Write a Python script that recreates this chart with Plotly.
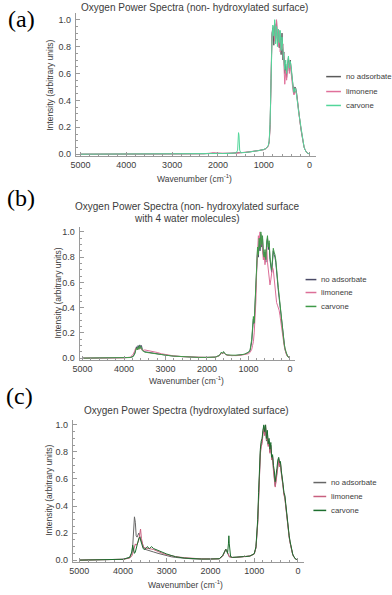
import plotly.graph_objects as go

# ===== data: panel (a) non-hydroxylated surface =====
wn_a = [5000, 4000, 3000, 2300, 2150, 2100, 2050, 1900, 1700, 1600,
        1570, 1550, 1540, 1525, 1500, 1400, 1300, 1200, 1100, 1000,
        950, 900, 880, 860, 840, 820, 800, 780, 760, 740,
        720, 700, 680, 660, 640, 620, 600, 580, 560, 540,
        520, 500, 480, 460, 440, 420, 400, 380, 360, 340,
        320, 300, 280, 260, 240, 220, 200, 180, 160, 140,
        120, 100, 80, 60, 40, 20, 0]
none_a = [0.0, 0.0, 0.001, 0.003, 0.006, 0.009, 0.007, 0.005, 0.006, 0.007,
          0.008, 0.008, 0.009, 0.009, 0.010, 0.013, 0.017, 0.021, 0.027, 0.034,
          0.042, 0.062, 0.095, 0.22, 0.56, 0.90, 0.94, 0.81, 0.97, 0.86,
          0.99, 0.83, 0.91, 0.79, 0.88, 0.74, 0.90, 0.70, 0.76, 0.60,
          0.67, 0.57, 0.66, 0.72, 0.62, 0.70, 0.63, 0.55, 0.50, 0.45,
          0.50, 0.49, 0.45, 0.38, 0.32, 0.27, 0.22, 0.17, 0.12, 0.08,
          0.055, 0.035, 0.02, 0.012, 0.007, 0.004, 0.002]
limo_a = [0.0, 0.0, 0.001, 0.004, 0.008, 0.012, 0.009, 0.006, 0.006, 0.007,
          0.008, 0.008, 0.009, 0.009, 0.010, 0.013, 0.017, 0.021, 0.027, 0.034,
          0.041, 0.060, 0.09, 0.20, 0.52, 0.86, 0.90, 0.95, 0.84, 0.93,
          1.00, 0.88, 0.80, 0.92, 0.76, 0.85, 0.78, 0.82, 0.66, 0.52,
          0.62, 0.55, 0.63, 0.68, 0.60, 0.67, 0.60, 0.52, 0.47, 0.44,
          0.46, 0.47, 0.44, 0.37, 0.31, 0.27, 0.22, 0.17, 0.12, 0.08,
          0.055, 0.035, 0.02, 0.012, 0.007, 0.004, 0.002]
carv_a = [0.0, 0.0, 0.001, 0.002, 0.004, 0.005, 0.005, 0.005, 0.006, 0.010,
          0.03, 0.16, 0.14, 0.03, 0.011, 0.013, 0.017, 0.021, 0.027, 0.035,
          0.043, 0.065, 0.10, 0.24, 0.60, 0.84, 0.96, 0.88, 1.00, 0.82,
          0.95, 0.80, 0.93, 0.83, 0.92, 0.77, 0.87, 0.73, 0.70, 0.63,
          0.70, 0.60, 0.68, 0.73, 0.64, 0.69, 0.65, 0.56, 0.50, 0.46,
          0.49, 0.48, 0.44, 0.38, 0.32, 0.27, 0.22, 0.17, 0.12, 0.08,
          0.055, 0.035, 0.02, 0.012, 0.007, 0.004, 0.002]

# ===== data: panel (b) non-hydroxylated surface + 4 water =====
wn_b = [5000, 4500, 4000, 3850, 3780, 3740, 3720, 3700, 3680, 3660,
        3640, 3620, 3600, 3580, 3560, 3540, 3500, 3450, 3400, 3350,
        3300, 3200, 3100, 3000, 2800, 2600, 2400, 2200, 2000, 1800,
        1700, 1650, 1620, 1600, 1580, 1550, 1500, 1400, 1300, 1200,
        1100, 1000, 960, 920, 900, 880, 860, 840, 820, 800,
        780, 760, 740, 720, 700, 680, 660, 640, 620, 600,
        580, 560, 540, 520, 500, 480, 460, 440, 420, 400,
        380, 360, 340, 320, 300, 280, 260, 240, 220, 200,
        180, 160, 140, 120, 100, 80, 60, 40, 20, 0]
none_b = [0.0, 0.0, 0.002, 0.005, 0.015, 0.04, 0.07, 0.09, 0.07, 0.10,
          0.08, 0.105, 0.09, 0.10, 0.07, 0.06, 0.05, 0.048, 0.045, 0.04,
          0.038, 0.033, 0.028, 0.024, 0.016, 0.011, 0.008, 0.006, 0.006, 0.008,
          0.02, 0.045, 0.035, 0.05, 0.04, 0.03, 0.024, 0.02, 0.022, 0.025,
          0.03, 0.045, 0.06, 0.13, 0.27, 0.31, 0.27, 0.43, 0.57, 0.76,
          0.86, 0.80, 0.93, 0.85, 0.98, 0.88, 0.95, 0.82, 0.78, 0.84,
          0.76, 0.90, 0.95, 0.86, 0.91, 0.78, 0.72, 0.68, 0.76, 0.85,
          0.82, 0.80, 0.76, 0.66, 0.60, 0.54, 0.48, 0.42, 0.35, 0.29,
          0.24, 0.17, 0.11, 0.075, 0.045, 0.028, 0.016, 0.009, 0.004, 0.002]
limo_b = [0.0, 0.0, 0.002, 0.008, 0.03, 0.06, 0.08, 0.07, 0.08, 0.075,
          0.07, 0.08, 0.075, 0.07, 0.065, 0.062, 0.065, 0.062, 0.06, 0.058,
          0.055, 0.045, 0.035, 0.028, 0.018, 0.012, 0.009, 0.007, 0.006, 0.008,
          0.02, 0.04, 0.035, 0.045, 0.035, 0.028, 0.022, 0.018, 0.02, 0.022,
          0.026, 0.035, 0.045, 0.07, 0.10, 0.13, 0.20, 0.30, 0.45, 0.70,
          0.90, 0.97, 0.93, 1.00, 0.90, 0.95, 0.86, 0.78, 0.82, 0.74,
          0.80, 0.88, 0.76, 0.70, 0.64, 0.58, 0.62, 0.68, 0.72, 0.70,
          0.62, 0.55, 0.48, 0.44, 0.42, 0.40, 0.38, 0.34, 0.30, 0.26,
          0.21, 0.15, 0.10, 0.065, 0.04, 0.025, 0.015, 0.008, 0.004, 0.002]
carv_b = [0.0, 0.0, 0.002, 0.005, 0.012, 0.035, 0.06, 0.08, 0.065, 0.09,
          0.07, 0.10, 0.08, 0.085, 0.06, 0.055, 0.048, 0.045, 0.042, 0.04,
          0.037, 0.033, 0.028, 0.024, 0.016, 0.011, 0.008, 0.006, 0.006, 0.008,
          0.022, 0.048, 0.038, 0.052, 0.042, 0.03, 0.025, 0.021, 0.023, 0.026,
          0.031, 0.046, 0.065, 0.15, 0.30, 0.33, 0.28, 0.45, 0.59, 0.78,
          0.88, 0.82, 0.95, 0.87, 1.00, 0.90, 0.97, 0.83, 0.80, 0.86,
          0.78, 0.92, 0.97, 0.88, 0.93, 0.80, 0.74, 0.70, 0.78, 0.87,
          0.84, 0.82, 0.78, 0.68, 0.62, 0.56, 0.50, 0.43, 0.36, 0.30,
          0.25, 0.18, 0.12, 0.08, 0.05, 0.03, 0.017, 0.009, 0.004, 0.002]

# ===== data: panel (c) hydroxylated surface =====
wn_c = [5000, 4500, 4200, 4000, 3850, 3800, 3780, 3760, 3740, 3720,
        3700, 3680, 3660, 3640, 3620, 3600, 3580, 3560, 3540, 3520,
        3500, 3460, 3440, 3420, 3400, 3380, 3350, 3300, 3200, 3100,
        3000, 2900, 2800, 2600, 2400, 2200, 2000, 1800, 1720, 1680,
        1650, 1630, 1610, 1590, 1580, 1570, 1560, 1540, 1500, 1400,
        1300, 1250, 1220, 1200, 1100, 1000, 960, 920, 900, 880,
        860, 840, 820, 800, 780, 760, 740, 720, 700, 680,
        660, 640, 620, 600, 580, 560, 540, 520, 500, 480,
        460, 440, 420, 400, 380, 360, 340, 320, 300, 280,
        260, 240, 220, 200, 180, 160, 140, 120, 100, 80,
        60, 40, 20, 0]
none_c = [0.0, 0.002, 0.004, 0.006, 0.02, 0.05, 0.10, 0.22, 0.32, 0.28,
          0.18, 0.17, 0.19, 0.20, 0.18, 0.16, 0.14, 0.11, 0.09, 0.085,
          0.08, 0.075, 0.072, 0.07, 0.068, 0.066, 0.064, 0.06, 0.05, 0.04,
          0.03, 0.025, 0.02, 0.012, 0.009, 0.008, 0.008, 0.01, 0.03, 0.06,
          0.08, 0.07, 0.05, 0.03, 0.025, 0.025, 0.024, 0.022, 0.02, 0.021,
          0.023, 0.025, 0.027, 0.026, 0.03, 0.045, 0.09, 0.28, 0.48, 0.66,
          0.80, 0.86, 0.88, 0.95, 0.99, 0.94, 0.98, 0.88, 0.95, 0.85,
          0.88, 0.80, 0.85, 0.75, 0.77, 0.68, 0.62, 0.55, 0.60, 0.66,
          0.72, 0.75, 0.70, 0.72, 0.65, 0.61, 0.55, 0.49, 0.47, 0.41,
          0.34, 0.27, 0.21, 0.17, 0.13, 0.095, 0.065, 0.042, 0.028, 0.017,
          0.01, 0.006, 0.003, 0.001]
limo_c = [0.0, 0.002, 0.004, 0.006, 0.015, 0.03, 0.05, 0.08, 0.10, 0.12,
          0.11, 0.12, 0.13, 0.15, 0.18, 0.23, 0.16, 0.12, 0.10, 0.095,
          0.09, 0.088, 0.086, 0.085, 0.085, 0.084, 0.082, 0.078, 0.062, 0.05,
          0.04, 0.032, 0.026, 0.018, 0.012, 0.009, 0.008, 0.01, 0.03, 0.06,
          0.08, 0.07, 0.05, 0.03, 0.025, 0.025, 0.024, 0.022, 0.02, 0.021,
          0.023, 0.025, 0.027, 0.026, 0.03, 0.045, 0.09, 0.27, 0.47, 0.64,
          0.78, 0.84, 0.86, 0.93, 0.97, 0.92, 1.00, 0.89, 0.93, 0.84,
          0.87, 0.79, 0.84, 0.74, 0.76, 0.66, 0.60, 0.54, 0.58, 0.64,
          0.71, 0.74, 0.69, 0.71, 0.64, 0.60, 0.54, 0.48, 0.46, 0.40,
          0.33, 0.27, 0.21, 0.17, 0.13, 0.095, 0.065, 0.042, 0.028, 0.017,
          0.01, 0.006, 0.003, 0.001]
carv_c = [0.0, 0.002, 0.004, 0.006, 0.02, 0.06, 0.11, 0.07, 0.05, 0.06,
          0.09, 0.12, 0.14, 0.16, 0.17, 0.15, 0.12, 0.10, 0.085, 0.08,
          0.08, 0.095, 0.10, 0.09, 0.085, 0.09, 0.10, 0.085, 0.07, 0.055,
          0.045, 0.035, 0.025, 0.015, 0.01, 0.008, 0.008, 0.01, 0.035, 0.065,
          0.08, 0.072, 0.05, 0.12, 0.18, 0.12, 0.05, 0.026, 0.02, 0.021,
          0.023, 0.026, 0.03, 0.026, 0.03, 0.047, 0.10, 0.30, 0.50, 0.68,
          0.82, 0.88, 0.90, 0.96, 1.00, 0.95, 1.00, 0.90, 0.96, 0.86,
          0.90, 0.82, 0.87, 0.76, 0.78, 0.70, 0.66, 0.58, 0.62, 0.68,
          0.74, 0.76, 0.72, 0.73, 0.66, 0.62, 0.56, 0.50, 0.48, 0.42,
          0.35, 0.28, 0.22, 0.18, 0.14, 0.10, 0.07, 0.045, 0.03, 0.018,
          0.01, 0.006, 0.003, 0.001]

series_names = ["no adsorbate", "limonene", "carvone"]

W, H = 392, 595


def px(x):
    return x / W


def py(y):
    return 1 - y / H


FONT = "Liberation Sans, Arial, sans-serif"
TXT = "#3c3c3c"
AXC = "#9a9a9a"

# per-panel setup (positions in pixels of the 392x595 page)
panels = [
    dict(wn=wn_a, ys=[none_a, limo_a, carv_a],
         colors=["#5a5a5a", "#e0709a", "#52d69a"],
         xr=[5105, -150], xd=(70, 315), yr=[-0.015, 1.05], yd=(13, 157),
         title=["Oxygen Power Spectra (non- hydroxylated surface)"], title_x=191, title_y=[8],
         xt=(191, 179), yt=(43, 86), leg=(325, 340, 343, [77, 92, 106]),
         tag="(a)", tag_xy=(15, 19)),
    dict(wn=wn_b, ys=[none_b, limo_b, carv_b],
         colors=["#4a4a66", "#dc6f98", "#3f9a48"],
         xr=[5070, -118], xd=(74, 293), yr=[-0.016, 1.04], yd=(228, 362),
         title=["Oxygen Power Spectra (non- hydroxylated surface", "with 4 water molecules)"],
         title_x=183, title_y=[208, 220],
         xt=(183, 382), yt=(51, 295), leg=(304, 315, 318, [281, 294, 308]),
         tag="(b)", tag_xy=(14, 199)),
    dict(wn=wn_c, ys=[none_c, limo_c, carv_c],
         colors=["#666666", "#c8607f", "#1d6e2e"],
         xr=[5150, -130], xd=(67, 302), yr=[-0.015, 1.037], yd=(422, 565),
         title=["Oxygen Power Spectra (hydroxylated surface)"], title_x=183, title_y=[413],
         xt=(182, 587), yt=(42, 493), leg=(312, 325, 328, [485, 499, 513]),
         tag="(c)", tag_xy=(13, 398)),
]

fig = go.Figure()
annotations = []
shapes = []

for i, p in enumerate(panels):
    n = "" if i == 0 else str(i + 1)
    for name, y, col in zip(series_names, p["ys"], p["colors"]):
        fig.add_trace(go.Scatter(
            x=p["wn"], y=y, name=name, mode="lines",
            line=dict(color=col, width=1),
            xaxis="x" + n, yaxis="y" + n, showlegend=False,
        ))

    fig.layout["xaxis" + n] = dict(
        domain=[px(p["xd"][0]), px(p["xd"][1])], range=p["xr"], anchor="y" + n,
        showline=True, linecolor=AXC, linewidth=1, showgrid=False, zeroline=False,
        ticks="inside", ticklen=4, tickcolor=AXC, tick0=0, dtick=1000,
        minor=dict(ticks="inside", ticklen=2, tickcolor=AXC, dtick=200),
        tickfont=dict(size=9, color=TXT, family=FONT),
    )
    fig.layout["yaxis" + n] = dict(
        domain=[py(p["yd"][1]), py(p["yd"][0])], range=p["yr"], anchor="x" + n,
        showline=True, linecolor=AXC, linewidth=1, showgrid=False, zeroline=False,
        ticks="inside", ticklen=4, tickcolor=AXC, tick0=0, dtick=0.2, tickformat=".1f",
        minor=dict(ticks="inside", ticklen=2, tickcolor=AXC, dtick=0.05),
        tickfont=dict(size=9, color=TXT, family=FONT), ticklabelstandoff=2,
    )

    # plot title
    for line, ty in zip(p["title"], p["title_y"]):
        annotations.append(dict(text=line, x=px(p["title_x"]), y=py(ty), xref="paper", yref="paper",
                                showarrow=False, xanchor="center", yanchor="middle",
                                font=dict(size=10, color=TXT, family=FONT)))
    # axis titles
    annotations.append(dict(text="Wavenumber (cm<sup>-1</sup>)", x=px(p["xt"][0]), y=py(p["xt"][1]),
                            xref="paper", yref="paper", showarrow=False,
                            xanchor="center", yanchor="middle",
                            font=dict(size=8.5, color=TXT, family=FONT)))
    annotations.append(dict(text="Intensity (arbitrary units)", x=px(p["yt"][0]), y=py(p["yt"][1]),
                            xref="paper", yref="paper", showarrow=False, textangle=-90,
                            xanchor="center", yanchor="middle",
                            font=dict(size=8.5, color=TXT, family=FONT)))
    # panel tag
    annotations.append(dict(text=p["tag"], x=px(p["tag_xy"][0]), y=py(p["tag_xy"][1]),
                            xref="paper", yref="paper", showarrow=False,
                            xanchor="center", yanchor="middle",
                            font=dict(size=24, color="black", family="Liberation Serif, Times New Roman, serif")))
    # legend (drawn by hand, short line samples like the original)
    x0, x1, xtxt, ys = p["leg"]
    for name, col, ly in zip(series_names, p["colors"], ys):
        shapes.append(dict(type="line", xref="paper", yref="paper",
                           x0=px(x0), x1=px(x1), y0=py(ly), y1=py(ly),
                           line=dict(color=col, width=1.5)))
        annotations.append(dict(text=name, x=px(xtxt), y=py(ly), xref="paper", yref="paper",
                                showarrow=False, xanchor="left", yanchor="middle",
                                font=dict(size=7.8, color=TXT, family=FONT)))

fig.update_layout(
    width=W, height=H,
    margin=dict(l=0, r=0, t=0, b=0),
    plot_bgcolor="white", paper_bgcolor="white",
    showlegend=False,
    annotations=annotations, shapes=shapes,
)

# the page body has an 8px default margin; drop it so the figure fills the window
fig.write_html("out.html", config={"displayModeBar": False},
               post_script="document.body.style.margin='0px';")
